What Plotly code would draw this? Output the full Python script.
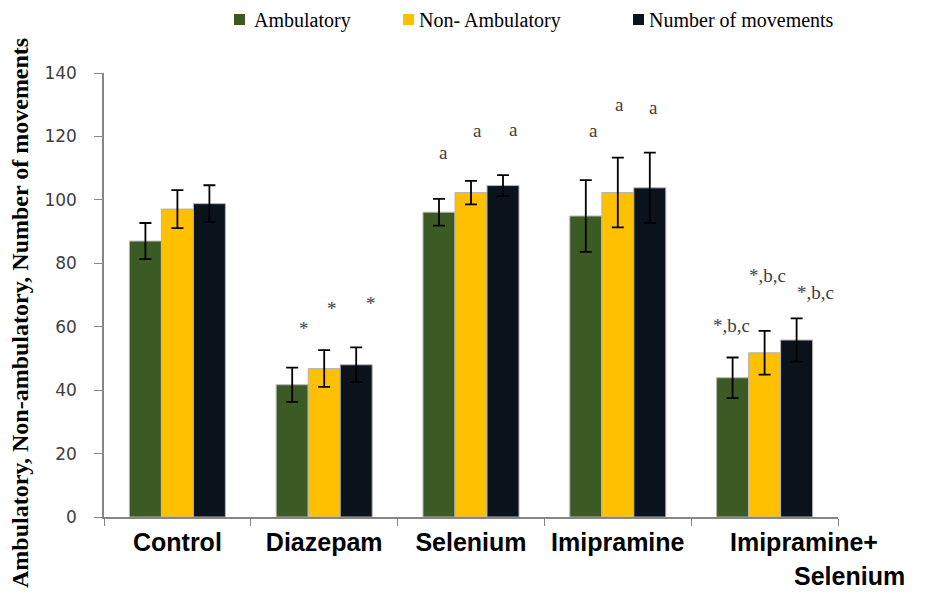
import plotly.graph_objects as go

# groups and series
groups = ["Control", "Diazepam", "Selenium", "Imipramine", "Imipramine+Selenium"]
group_ticks = ["Control", "Diazepam", "Selenium", "Imipramine", ""]

series_names = ["Ambulatory", "Non- Ambulatory", "Number of movements"]
ambulatory = [87.0, 41.7, 96.1, 94.9, 43.9]
ambulatory_err = [5.7, 5.4, 4.2, 11.3, 6.4]
non_ambulatory = [97.1, 46.8, 102.3, 102.3, 51.8]
non_ambulatory_err = [6.0, 5.8, 3.7, 11.0, 6.9]
movements = [98.8, 48.0, 104.5, 103.8, 55.8]
movements_err = [5.8, 5.5, 3.3, 11.1, 6.8]

# significance marks, one per group and series ("" = none)
sig_labels = [
    ["", "", ""],
    ["*", "*", "*"],
    ["a", "a", "a"],
    ["a", "a", "a"],
    ["*,b,c", "*,b,c", "*,b,c"],
]
# height of each mark (data units) as placed in the original
sig_heights = [
    [0, 0, 0],
    [60.0, 66.3, 68.1],
    [114.9, 121.8, 122.3],
    [122.0, 130.2, 129.1],
    [60.5, 76.3, 70.9],
]
sig_nudge = [
    [0, 0, 0],
    [12, 8, 15],
    [4, 6, 10],
    [8, 2, 4],
    [-1, 3, 19],
]

colors = ["#3C5A24", "#FFC000", "#0A131C"]

# page offset (body margin) so positions match the screenshot
OX, OY = 8, 8
W, H = 927 - OX, 607 - OY
L, T = 104 - OX, 73 - OY
R, B = W - (838 - OX), H - (517 - OY)
bargap = 0.346


def px_x(px):
    return (px - OX - L) / (W - L - R)


def px_y(py):
    return (H - B - (py - OY)) / (H - T - B)


fig = go.Figure()
for name, vals, errs, color in zip(series_names,
                                   [ambulatory, non_ambulatory, movements],
                                   [ambulatory_err, non_ambulatory_err, movements_err],
                                   colors):
    fig.add_trace(go.Bar(
        x=groups, y=vals, name=name,
        marker=dict(color=color, line=dict(color="#b5b5b5", width=1)),
        error_y=dict(type="data", array=errs, visible=True,
                     color="black", thickness=1.8, width=6),
        showlegend=False,
    ))

annotations = []
bar_w = (1 - bargap) / 3
for i in range(len(groups)):
    for j in range(3):
        txt = sig_labels[i][j]
        if not txt:
            continue
        annotations.append(dict(
            x=i + (j - 1) * bar_w, y=sig_heights[i][j], xref="x", yref="y",
            text=txt, showarrow=False, xshift=sig_nudge[i][j],
            yshift=-2 if txt == "*" else 0,
            font=dict(family="Liberation Serif", size=19, color="#404040"),
        ))

# last category label, written over two lines as in the original
label_font = dict(family="Liberation Sans", size=25, color="black", weight="bold")
annotations.append(dict(
    x=px_x(804), y=px_y(542), xref="paper", yref="paper", text="Imipramine+",
    showarrow=False, xanchor="center", yanchor="middle", font=label_font,
))
annotations.append(dict(
    x=px_x(849), y=px_y(576), xref="paper", yref="paper", text="Selenium",
    showarrow=False, xanchor="center", yanchor="middle", font=label_font,
))

# y axis title
annotations.append(dict(
    x=px_x(20), y=px_y(313), xref="paper", yref="paper",
    text="Ambulatory, Non-ambulatory, Number of movements",
    textangle=-90, showarrow=False, xanchor="center", yanchor="middle",
    font=dict(family="Liberation Serif", size=24, color="black", weight="bold"),
))

# legend drawn at the top
shapes = []
legend_sq = [234, 403, 633]
legend_txt = [252, 417, 647]
for name, color, sx, tx in zip(series_names, colors, legend_sq, legend_txt):
    shapes.append(dict(type="rect", xref="paper", yref="paper",
                       x0=px_x(sx), x1=px_x(sx + 11), y0=px_y(25), y1=px_y(14),
                       fillcolor=color, line=dict(width=0)))
    annotations.append(dict(
        x=px_x(tx), y=px_y(20), xref="paper", yref="paper", text=name,
        showarrow=False, xanchor="left", yanchor="middle",
        font=dict(family="Liberation Serif", size=20, color="black"),
    ))

fig.update_layout(
    width=W, height=H,
    margin=dict(l=L, r=R, t=T, b=B, autoexpand=False),
    barmode="group", bargap=bargap, bargroupgap=0,
    plot_bgcolor="white", paper_bgcolor="white",
    annotations=annotations, shapes=shapes,
    xaxis=dict(
        tickmode="array", tickvals=groups, ticktext=group_ticks, tickangle=0,
        tickson="boundaries", ticks="outside", ticklen=7, tickcolor="#868686",
        showline=True, linecolor="#868686", linewidth=1.5, automargin=False,
        tickfont=label_font, ticklabelstandoff=2,
        showgrid=False,
    ),
    yaxis=dict(
        range=[0, 140], dtick=20, ticks="outside", ticklen=8, tickcolor="#868686",
        showline=True, linecolor="#868686", linewidth=1.5, automargin=False,
        tickfont=dict(family="DejaVu Sans", size=17, color="#404040"),
        ticklabelstandoff=14,
        showgrid=False, zeroline=False,
    ),
)

fig.write_html("out.html")
